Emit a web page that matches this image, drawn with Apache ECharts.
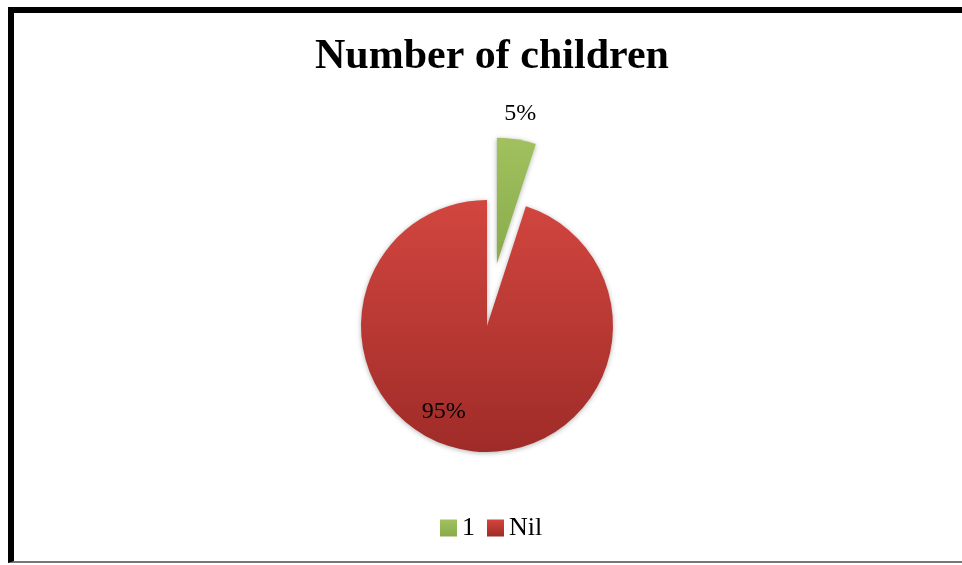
<!DOCTYPE html>
<html>
<head>
<meta charset="utf-8">
<script src="https://cdn.jsdelivr.net/npm/echarts@6/dist/echarts.min.js"></script>
<style>
  html, body { margin: 0; padding: 0; background: #fff; }
  #frame {
    position: absolute; left: 8px; top: 7px; width: 954px; height: 556px;
    border-top: 6px solid #000; border-left: 6px solid #000; border-bottom: 2px solid #777;
    box-sizing: border-box;
  }
  #chart { position: absolute; left: 0; top: 0; width: 962px; height: 565px; }
</style>
</head>
<body>
<div id="frame"></div>
<div id="chart"></div>
<script>
// 資料
const categories = ['1', 'Nil'];
const values = [5, 95];
const sliceColors = [
  ['#a0c15e', '#8aab4a'],   // 1
  ['#d2463f', '#9f2b28']    // Nil
];
const labelShift = [[13, -85], [-33, 21]]; // 標籤微調 (dx, dy)

const myChart = echarts.init(document.getElementById('chart'), null, { renderer: 'canvas' });

const option = {
  backgroundColor: 'transparent',
  title: {
    text: 'Number of children',
    left: 310,
    top: 31,
    textStyle: {
      fontFamily: 'Liberation Serif',
      fontWeight: 'bold',
      fontSize: 42,
      color: '#000'
    }
  },
  legend: {
    data: categories,
    top: 510,
    left: 435,
    icon: 'rect',
    itemWidth: 17,
    itemHeight: 17,
    itemGap: 12,
    textStyle: {
      fontFamily: 'Liberation Serif',
      fontSize: 26,
      color: '#000'
    }
  },
  series: [
    {
      name: 'Number of children',
      type: 'pie',
      center: [487, 326],
      radius: 126,
      startAngle: 90,
      selectedMode: 'single',
      selectedOffset: 63,
      animation: false,
      label: {
        show: true,
        position: 'inside',
        formatter: '{d}%',
        fontFamily: 'Liberation Serif',
        fontSize: 24,
        color: '#000'
      },
      labelLine: { show: false },
      labelLayout: function (params) {
        const s = labelShift[params.dataIndex];
        return { dx: s[0], dy: s[1] };
      },
      emphasis: { disabled: true },
      data: categories.map((name, i) => ({
        name: name,
        value: values[i],
        selected: i === 0,
        itemStyle: {
          color: new echarts.graphic.LinearGradient(0, 0, 0, 1, [
            { offset: 0, color: sliceColors[i][0] },
            { offset: 1, color: sliceColors[i][1] }
          ]),
          shadowBlur: 5,
          shadowColor: 'rgba(0,0,0,0.3)',
          shadowOffsetY: 1
        }
      }))
    }
  ]
};

myChart.setOption(option);
</script>
</body>
</html>
